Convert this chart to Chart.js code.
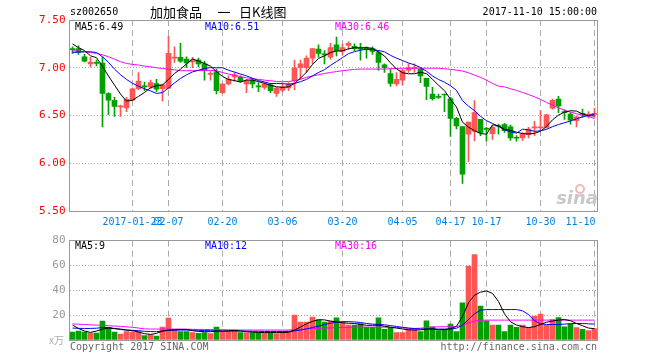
<!DOCTYPE html>
<html>
<head>
<meta charset="utf-8">
<script src="https://cdn.jsdelivr.net/npm/chart.js@4.4.0/dist/chart.umd.min.js"></script>
<style>
  body { margin: 0; background: #fff; }
  #wrap { position: relative; width: 660px; height: 360px; overflow: hidden; }
  #kline { position: absolute; left: 0; top: 0; }
  #vol { position: absolute; left: 0; top: 230px; }
</style>
</head>
<body>
<div id="wrap">
  <canvas id="kline" width="660" height="230"></canvas>
  <canvas id="vol" width="660" height="130"></canvas>
</div>
<script>
// trading days shown on the chart (2017)
const days = [
  '01-09','01-10','01-11','01-12','01-13','01-16','01-17','01-18','01-19','01-20',
  '01-23','01-24','01-25','01-26','02-03','02-06','02-07','02-08','02-09','02-10',
  '02-13','02-14','02-15','02-16','02-17','02-20','02-21','02-22','02-23','02-24',
  '02-27','02-28','03-01','03-02','03-03','03-06','03-07','03-08','03-09','03-10',
  '03-13','03-14','03-15','03-16','03-17','03-20','03-21','03-22','03-23','03-24',
  '03-27','03-28','03-29','03-30','03-31','04-05','04-06','04-07','04-10','04-11',
  '04-12','04-13','04-14','04-17','04-18','04-19','04-20','04-21','04-24','10-17',
  '10-18','10-19','10-20','10-23','10-24','10-25','10-26','10-27','10-30','10-31',
  '11-01','11-02','11-03','11-06','11-07','11-08','11-09','11-10'
];

const opens = [
  7.20, 7.20, 7.115, 7.04, 7.05, 7.05, 6.73, 6.66, 6.59, 6.58,
  6.66, 6.78, 6.805, 6.80, 6.835, 6.78, 6.787, 7.10, 7.11, 7.09,
  7.06, 7.08, 7.04, 6.93, 6.96, 6.74, 6.83, 6.905, 6.90, 6.83,
  6.87, 6.805, 6.795, 6.82, 6.73, 6.766, 6.79, 6.865, 7.00, 7.00,
  7.10, 7.195, 7.14, 7.11, 7.24, 7.17, 7.235, 7.225, 7.20, 7.20,
  7.20, 7.16, 7.03, 6.94, 6.83, 6.87, 6.975, 6.995, 6.985, 6.89,
  6.725, 6.695, 6.72, 6.675, 6.47, 6.385, 6.305, 6.333, 6.46, 6.36,
  6.31, 6.39, 6.405, 6.382, 6.265, 6.264, 6.298, 6.37, 6.37, 6.375,
  6.578, 6.672, 6.535, 6.515, 6.445, 6.517, 6.505, 6.512
];
const highs = [
  7.22, 7.23, 7.14, 7.11, 7.08, 7.115, 6.74, 6.69, 6.61, 6.69,
  6.79, 6.95, 6.85, 6.87, 6.88, 6.83, 7.33, 7.22, 7.255, 7.115,
  7.11, 7.10, 7.07, 6.96, 6.985, 6.835, 6.915, 6.95, 6.915, 6.88,
  6.89, 6.845, 6.846, 6.836, 6.795, 6.83, 6.845, 7.08, 7.08, 7.125,
  7.20, 7.24, 7.18, 7.255, 7.32, 7.25, 7.275, 7.25, 7.255, 7.22,
  7.22, 7.18, 7.04, 6.985, 6.95, 6.985, 7.04, 7.04, 7.00, 6.89,
  6.795, 6.725, 6.725, 6.69, 6.48, 6.385, 6.43, 6.655, 6.46, 6.375,
  6.39, 6.41, 6.417, 6.40, 6.29, 6.32, 6.375, 6.44, 6.55, 6.515,
  6.672, 6.70, 6.56, 6.53, 6.497, 6.567, 6.54, 6.578
];
const lows = [
  7.15, 7.14, 7.06, 7.01, 7.02, 6.38, 6.51, 6.49, 6.49, 6.54,
  6.655, 6.77, 6.76, 6.78, 6.75, 6.65, 6.78, 7.055, 7.055, 7.00,
  7.00, 7.01, 6.87, 6.87, 6.725, 6.73, 6.82, 6.857, 6.85, 6.74,
  6.79, 6.75, 6.777, 6.74, 6.70, 6.75, 6.76, 6.77, 6.88, 6.95,
  7.04, 7.11, 7.04, 7.09, 7.125, 7.135, 7.195, 7.18, 7.08, 7.10,
  7.14, 6.975, 6.95, 6.805, 6.81, 6.82, 6.95, 6.95, 6.845, 6.665,
  6.66, 6.68, 6.54, 6.28, 6.36, 5.79, 6.02, 6.235, 6.29, 6.235,
  6.25, 6.305, 6.323, 6.24, 6.23, 6.24, 6.264, 6.288, 6.34, 6.368,
  6.567, 6.53, 6.46, 6.41, 6.38, 6.48, 6.473, 6.48
];
const closes = [
  7.19, 7.16, 7.07, 7.06, 7.045, 6.73, 6.66, 6.595, 6.595, 6.67,
  6.78, 6.86, 6.80, 6.845, 6.775, 6.82, 7.15, 7.11, 7.07, 7.05,
  7.08, 7.04, 6.98, 6.935, 6.76, 6.83, 6.88, 6.925, 6.857, 6.864,
  6.83, 6.80, 6.83, 6.76, 6.787, 6.80, 6.83, 7.00, 7.04, 7.10,
  7.20, 7.15, 7.135, 7.21, 7.18, 7.21, 7.255, 7.20, 7.195, 7.195,
  7.17, 7.055, 7.00, 6.835, 6.88, 6.97, 7.00, 7.00, 6.915, 6.805,
  6.675, 6.69, 6.715, 6.47, 6.39, 5.885, 6.43, 6.53, 6.32, 6.355,
  6.375, 6.385, 6.34, 6.264, 6.262, 6.305, 6.357, 6.375, 6.375, 6.508,
  6.66, 6.60, 6.53, 6.452, 6.487, 6.513, 6.51, 6.517
];

const ma5 = [
  7.25, 7.21, 7.18, 7.125, 7.105, 7.013, 6.913, 6.818, 6.725, 6.65,
  6.66, 6.70, 6.741, 6.791, 6.812, 6.82, 6.878, 6.94, 6.985, 7.04,
  7.092, 7.07, 7.044, 7.017, 6.959, 6.909, 6.877, 6.866, 6.85, 6.871,
  6.871, 6.855, 6.836, 6.817, 6.801, 6.795, 6.801, 6.835, 6.891, 6.954,
  7.034, 7.098, 7.125, 7.159, 7.175, 7.177, 7.198, 7.211, 7.208, 7.211,
  7.203, 7.163, 7.123, 7.051, 6.988, 6.948, 6.937, 6.937, 6.953, 6.938,
  6.879, 6.817, 6.76, 6.671, 6.588, 6.43, 6.378, 6.341, 6.311, 6.304,
  6.402, 6.393, 6.355, 6.344, 6.325, 6.311, 6.306, 6.313, 6.335, 6.384,
  6.455, 6.504, 6.535, 6.55, 6.546, 6.516, 6.498, 6.496
];
const ma10 = [
  7.16, 7.164, 7.167, 7.167, 7.16, 7.115, 7.056, 6.986, 6.927, 6.878,
  6.837, 6.807, 6.78, 6.758, 6.731, 6.74, 6.789, 6.841, 6.888, 6.926,
  6.956, 6.974, 6.992, 7.001, 7.00, 7.00, 6.974, 6.955, 6.934, 6.915,
  6.89, 6.866, 6.851, 6.834, 6.836, 6.833, 6.828, 6.836, 6.854, 6.878,
  6.915, 6.95, 6.98, 7.025, 7.065, 7.106, 7.148, 7.168, 7.184, 7.193,
  7.19, 7.181, 7.167, 7.13, 7.10, 7.076, 7.05, 7.03, 7.002, 6.963,
  6.914, 6.877, 6.849, 6.812, 6.763, 6.655, 6.598, 6.551, 6.491, 6.446,
  6.416, 6.386, 6.348, 6.328, 6.315, 6.357, 6.35, 6.334, 6.34, 6.355,
  6.383, 6.405, 6.424, 6.443, 6.465, 6.486, 6.501, 6.516
];
const ma30 = [
  7.178, 7.175, 7.167, 7.16, 7.15, 7.136, 7.115, 7.09, 7.063, 7.045,
  7.035, 7.028, 7.017, 7.01, 7.00, 6.993, 6.983, 6.979, 6.969, 6.969,
  6.969, 6.972, 6.972, 6.972, 6.969, 6.95, 6.934, 6.923, 6.906, 6.895,
  6.885, 6.878, 6.87, 6.864, 6.857, 6.853, 6.857, 6.864, 6.88, 6.90,
  6.913, 6.927, 6.94, 6.951, 6.96, 6.969, 6.976, 6.983, 6.986, 6.986,
  6.986, 6.986, 6.986, 6.99, 6.993, 6.995, 6.995, 6.995, 6.995, 6.995,
  6.995, 6.995, 6.99, 6.983, 6.976, 6.965, 6.948, 6.923, 6.90, 6.87,
  6.836, 6.808, 6.80, 6.78, 6.763, 6.742, 6.72, 6.696, 6.668, 6.637,
  6.609, 6.58, 6.557, 6.536, 6.518, 6.504, 6.49, 6.468
];

// volume in 万手
const volumes = [
  6.4, 7.2, 6.4, 5.6, 5.6, 15.2, 9.9, 6.4, 4.8, 6.7,
  6.4, 6.7, 3.5, 4.3, 3.2, 10.4, 17.6, 8.0, 6.7, 6.7,
  5.9, 5.3, 5.9, 5.1, 10.4, 7.2, 7.2, 8.0, 5.9, 5.9,
  5.9, 5.9, 5.3, 5.3, 5.1, 6.4, 7.2, 20.0, 14.4, 14.4,
  18.4, 16.3, 14.4, 15.2, 17.8, 13.9, 12.0, 12.0, 13.3, 10.1,
  10.1, 17.9, 8.5, 10.1, 5.9, 5.9, 8.5, 8.5, 6.7, 15.5,
  10.7, 7.5, 8.5, 12.8, 6.7, 29.9, 59.5, 68.8, 27.2, 15.5,
  12.0, 12.0, 6.7, 12.0, 10.1, 12.0, 10.1, 19.2, 20.8, 12.0,
  16.5, 18.1, 10.7, 12.8, 9.9, 8.5, 7.5, 9.1
];
const volMa5 = [
  12, 9.3, 7.2, 6.1, 7.2, 8.8, 9.6, 9.1, 8.8, 8.0,
  7.5, 6.4, 5.1, 4.5, 5.3, 7.2, 8.0, 8.3, 8.5, 8.5,
  7.5, 6.9, 6.7, 6.7, 7.2, 7.2, 7.4, 7.6, 7.3, 6.8,
  6.3, 6.1, 6.0, 6.0, 6.0, 6.0, 6.2, 8.0, 10.5, 13.0,
  15.0, 16.3, 16.2, 15.2, 14.6, 13.9, 13.5, 13.3, 12.5, 11.8,
  11.8, 12.0, 11.0, 10.3, 9.6, 8.9, 8.2, 8.0, 8.2, 8.8,
  9.0, 8.3, 8.4, 9.0, 11.0, 19.0, 30.0, 36.0, 38.5, 39.5,
  37.5, 31.0, 21.0, 14.7, 12.0, 10.7, 10.0, 10.7, 12.5, 14.3,
  15.3, 16.0, 16.5, 15.5, 13.3, 11.5, 9.6, 9.1
];
const volMa10 = [
  9.6, 9.4, 9.3, 9.3, 9.5, 10.0, 10.1, 9.3, 8.5, 8.0,
  7.8, 7.5, 7.0, 6.8, 6.7, 7.2, 7.7, 7.9, 8.0, 8.0,
  7.9, 7.8, 7.6, 7.5, 7.3, 7.2, 7.2, 7.2, 7.2, 7.1,
  7.0, 7.0, 6.9, 6.9, 6.9, 6.9, 6.9, 7.3, 8.0, 9.0,
  10.0, 11.2, 12.5, 13.5, 14.3, 14.8, 14.8, 14.5, 14.1, 13.3,
  12.8, 12.5, 12.2, 11.6, 10.9, 10.2, 9.6, 9.2, 8.9, 8.8,
  8.8, 8.8, 8.8, 8.8, 9.5, 12.0, 16.5, 21.0, 24.0, 24.5,
  24.5, 24.5, 24.5, 24.5, 24.5, 23.5, 20.5, 15.5, 13.0, 12.5,
  12.5, 12.5, 12.8, 13.2, 13.3, 13.3, 13.0, 12.8
];
const volMa30 = [
  13.0, 12.7, 12.5, 12.2, 12.0, 11.7, 11.5, 11.2, 11.0, 10.6,
  10.2, 9.6, 9.0, 8.8, 8.8, 8.8, 8.8, 8.8, 8.8, 8.7,
  8.6, 8.5, 8.5, 8.4, 8.4, 8.3, 8.2, 8.1, 8.0, 8.0,
  8.0, 8.0, 8.0, 8.0, 8.0, 8.0, 8.0, 8.3, 8.6, 8.9,
  9.2, 9.4, 9.6, 9.8, 10.0, 10.1, 10.2, 10.3, 10.4, 10.4,
  10.4, 10.4, 10.3, 10.2, 10.1, 9.8, 9.4, 9.3, 9.5, 10.0,
  10.4, 10.6, 10.7, 10.7, 10.9, 12.0, 13.8, 15.3, 15.9, 16.0,
  16.0, 16.0, 16.0, 16.0, 16.0, 16.0, 16.0, 16.0, 16.0, 16.0,
  16.0, 16.0, 16.0, 16.0, 16.0, 16.0, 16.0, 16.0
];

// dates that get a dashed grid line and a label
const gridDates = ['01-23', '02-07', '02-20', '03-06', '03-20', '04-05', '04-17', '10-17', '10-30', '11-10'];
const gridText = ['2017-01-23', '02-07', '02-20', '03-06', '03-20', '04-05', '04-17', '10-17', '10-30', '11-10'];
const priceTicks = [5.5, 6.0, 6.5, 7.0, 7.5];
const volTicks = [0, 20, 40, 60, 80];

const RED = '#ff5555';
const GREEN = '#00a000';
const MONO = '"DejaVu Sans Mono", "Liberation Mono", monospace';
const CJK = '"Noto Sans CJK SC", sans-serif';

const candleColors = closes.map((c, i) => c >= opens[i] ? RED : GREEN);

function text(ctx, s, x, y, color, align, font) {
  ctx.save();
  ctx.fillStyle = color;
  ctx.textAlign = align || 'left';
  ctx.textBaseline = 'middle';
  ctx.font = font || ('10px ' + MONO);
  ctx.fillText(s, x, y);
  ctx.restore();
}

function frame(chart) {
  const a = chart.chartArea;
  const ctx = chart.ctx;
  const px = v => Math.floor(v) + 0.5;
  ctx.save();
  ctx.strokeStyle = '#999';
  ctx.lineWidth = 1;
  ctx.strokeRect(px(a.left), px(a.top), px(a.right) - px(a.left), px(a.bottom) - px(a.top));
  ctx.restore();
}

function xAxis(height) {
  return {
    type: 'category',
    offset: true,
    grid: {
      offset: false,
      drawTicks: false,
      lineWidth: 1,
      color: c => gridDates.includes(days[c.index]) ? '#aaa' : 'rgba(0,0,0,0)'
    },
    border: { display: false, dash: [6, 4] },
    ticks: { display: false, autoSkip: false },
    afterFit: s => { s.height = height; }
  };
}

function line(data, color) {
  return {
    type: 'line', data: data, borderColor: color, borderWidth: 1,
    pointRadius: 0, tension: 0, fill: false, order: 0
  };
}

const priceLabels = {
  id: 'priceLabels',
  afterDraw(chart) {
    const ctx = chart.ctx;
    frame(chart);
    text(ctx, 'sz002650', 70, 12, '#000');
    text(ctx, '加加食品', 150, 12, '#000', 'left', '13px ' + CJK);
    text(ctx, '一', 224, 12, '#000', 'center', '13px ' + CJK);
    text(ctx, '日K线图', 239, 12, '#000', 'left', '13px ' + CJK);
    text(ctx, '2017-11-10 15:00:00', 597, 12, '#000', 'right');
    text(ctx, 'MA5:6.49', 75, 27, '#000');
    text(ctx, 'MA10:6.51', 205, 27, '#0000ff');
    text(ctx, 'MA30:6.46', 335, 27, '#ff00ff');

    // date labels under the dashed grid lines, the last one kept inside
    const xs = chart.scales.x;
    gridDates.forEach((d, k) => {
      const i = days.indexOf(d);
      const x = xs.getPixelForTick(i);
      const last = k === gridDates.length - 1;
      text(ctx, gridText[k], last ? x + 1 : x, 222, '#0080e0', last ? 'right' : 'center');
    });

    // sina watermark
    ctx.save();
    ctx.strokeStyle = '#f2b8b8';
    ctx.lineWidth = 2;
    ctx.beginPath();
    ctx.arc(580, 189, 4, 0, Math.PI * 2);
    ctx.stroke();
    ctx.restore();
    text(ctx, 'sina', 598, 199, '#c8c8c8', 'right', 'italic bold 18px "DejaVu Sans", sans-serif');
  }
};

const volLabels = {
  id: 'volLabels',
  afterDraw(chart) {
    const ctx = chart.ctx;
    frame(chart);
    text(ctx, 'MA5:9', 75, 16, '#000');
    text(ctx, 'MA10:12', 205, 16, '#0000ff');
    text(ctx, 'MA30:16', 335, 16, '#ff00ff');
    text(ctx, 'x万', 64, 110, '#aaa', 'right', '10px ' + CJK);
    text(ctx, 'Copyright 2017 SINA.COM', 70, 117, '#666');
    text(ctx, 'http://finance.sina.com.cn', 597, 117, '#666', 'right');
  }
};

new Chart(document.getElementById('kline'), {
  type: 'bar',
  data: {
    labels: days,
    datasets: [
      line(ma5, '#000000'),
      line(ma10, '#0000ff'),
      line(ma30, '#ff00ff'),
      {
        data: opens.map((o, i) => [o, closes[i]]),
        backgroundColor: candleColors,
        barThickness: 5, minBarLength: 1, grouped: false, order: 1
      },
      {
        data: lows.map((l, i) => [l, highs[i]]),
        backgroundColor: candleColors,
        barThickness: 1, grouped: false, order: 2
      }
    ]
  },
  options: {
    responsive: false,
    animation: false,
    events: [],
    layout: { padding: { left: 0, right: 62.5, top: 20, bottom: 0 } },
    plugins: { legend: { display: false }, tooltip: { enabled: false } },
    scales: {
      x: xAxis(19),
      y: {
        min: 5.5, max: 7.5,
        afterBuildTicks: s => { s.ticks = priceTicks.map(v => ({ value: v })); },
        grid: {
          drawTicks: false,
          color: c => (c.tick && c.tick.value > 5.5 && c.tick.value < 7.5) ? '#aaa' : 'rgba(0,0,0,0)'
        },
        border: { display: false, dash: [1, 2] },
        ticks: {
          padding: 4,
          color: '#ff0000',
          font: { family: MONO, size: 11 },
          callback: v => Number(v).toFixed(2)
        },
        afterFit: s => { s.width = 69.5; }
      }
    }
  },
  plugins: [priceLabels]
});

new Chart(document.getElementById('vol'), {
  type: 'bar',
  data: {
    labels: days,
    datasets: [
      line(volMa5, '#000000'),
      line(volMa10, '#0000ff'),
      line(volMa30, '#ff00ff'),
      {
        data: volumes,
        backgroundColor: candleColors,
        barThickness: 5, grouped: false, order: 1
      }
    ]
  },
  options: {
    responsive: false,
    animation: false,
    events: [],
    layout: { padding: { left: 0, right: 62.5, top: 10, bottom: 0 } },
    plugins: { legend: { display: false }, tooltip: { enabled: false } },
    scales: {
      x: xAxis(20),
      y: {
        min: 0, max: 80,
        afterBuildTicks: s => { s.ticks = volTicks.map(v => ({ value: v })); },
        grid: {
          drawTicks: false,
          color: c => (c.tick && c.tick.value > 0 && c.tick.value < 80) ? '#aaa' : 'rgba(0,0,0,0)'
        },
        border: { display: false, dash: [1, 2] },
        ticks: {
          padding: 4,
          color: '#999',
          font: { family: MONO, size: 11 },
          callback: v => v === 0 ? '' : String(v)
        },
        afterFit: s => { s.width = 69.5; }
      }
    }
  },
  plugins: [volLabels]
});
</script>
</body>
</html>
